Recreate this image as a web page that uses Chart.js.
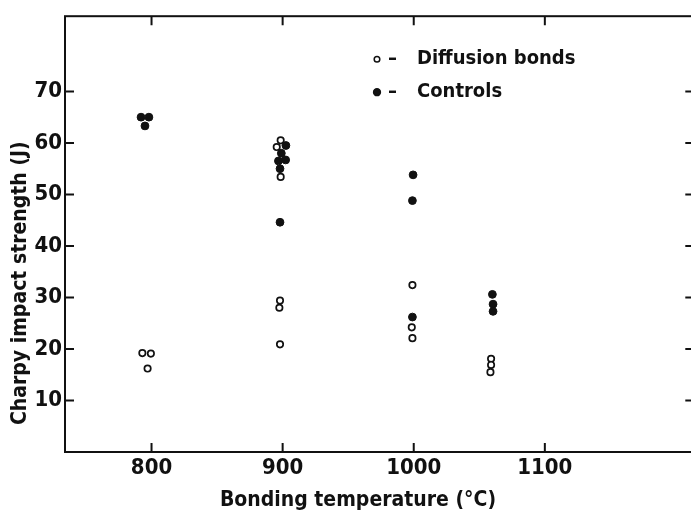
<!DOCTYPE html>
<html>
<head>
<meta charset="utf-8">
<script src="https://cdn.jsdelivr.net/npm/chart.js@4.4.1/dist/chart.umd.min.js"></script>
<style>
  html, body { margin: 0; padding: 0; background: #fff; overflow: hidden; }
  .chart-box { position: relative; width: 700px; height: 516px; }
</style>
</head>
<body>
<div class="chart-box"><canvas id="charpy-chart"></canvas></div>
<script>
  "use strict";

  // diffusion bonds (open circles)
  var diffusionTemp = [793, 799.5, 797, 898.5, 895.5, 898.5, 898, 897.5, 898, 999, 998.5, 999, 1059, 1059, 1058.5];
  var diffusionStrength = [19.2, 19.1, 16.2, 60.5, 59.2, 53.4, 29.4, 28.0, 20.9, 32.4, 24.2, 22.1, 18.1, 16.9, 15.5];

  // controls (filled dots)
  var controlTemp = [792, 798, 795, 902.5, 899, 902.3, 896.8, 898, 898, 999.5, 999, 999, 1060, 1060.5, 1060.5];
  var controlStrength = [65.0, 65.0, 63.3, 59.5, 58.0, 56.7, 56.5, 55.0, 44.6, 53.8, 48.8, 26.2, 30.6, 28.7, 27.3];

  var seriesLabels = ['Diffusion bonds', 'Controls'];
  var xTicks = [800, 900, 1000, 1100];
  var yTicks = [10, 20, 30, 40, 50, 60, 70];
  var xTitle = 'Bonding temperature (\u00B0C)';
  var yTitle = 'Charpy impact strength (J)';

  var FONT = '"DejaVu Sans Condensed", "DejaVu Sans", sans-serif';
  var INK = '#111111';

  function toPoints(xs, ys) {
    return xs.map(function (x, i) {
      return { x: x, y: ys[i] };
    });
  }

  // box, inward ticks, titles and legend
  var framePlugin = {
    id: 'frame',
    afterDraw: function (chart) {
      var ctx = chart.ctx;
      var a = chart.chartArea;
      var sx = chart.scales.x, sy = chart.scales.y;
      ctx.save();
      ctx.strokeStyle = INK;
      ctx.lineWidth = 2;
      ctx.strokeRect(a.left, a.top, a.right - a.left, a.bottom - a.top);
      ctx.beginPath();
      xTicks.forEach(function (v) {
        var px = sx.getPixelForValue(v);
        ctx.moveTo(px, a.bottom); ctx.lineTo(px, a.bottom - 9);
        ctx.moveTo(px, a.top); ctx.lineTo(px, a.top + 9);
      });
      yTicks.forEach(function (v) {
        var py = sy.getPixelForValue(v);
        ctx.moveTo(a.left, py); ctx.lineTo(a.left + 9, py);
        ctx.moveTo(a.right, py); ctx.lineTo(a.right - 9, py);
      });
      ctx.stroke();

      ctx.fillStyle = INK;
      ctx.font = 'bold 21px ' + FONT;
      ctx.textAlign = 'center';
      ctx.textBaseline = 'middle';
      ctx.fillText(xTitle, a.left + 293, a.bottom + 49);

      ctx.save();
      ctx.translate(21, a.top + 267);
      ctx.rotate(-Math.PI / 2);
      ctx.fillText(yTitle, 0, 0);
      ctx.restore();

      // legend
      var lx = a.left + 312, ly = a.top + 43;
      ctx.font = 'bold 20px ' + FONT;
      ctx.textAlign = 'left';
      chart.data.datasets.forEach(function (ds, i) {
        var y = ly + i * 33;
        ctx.beginPath();
        ctx.arc(lx, y, i === 0 ? 2.8 : 3.4, 0, Math.PI * 2);
        ctx.fillStyle = ds.backgroundColor;
        ctx.fill();
        ctx.lineWidth = 1.5;
        ctx.strokeStyle = ds.borderColor;
        ctx.stroke();
        ctx.fillStyle = INK;
        ctx.fillText('\u2013', lx + 11, y);
        ctx.fillText(ds.label, lx + 40, y);
      });
      ctx.restore();
    }
  };

  var ctxCharpy = document.getElementById('charpy-chart').getContext('2d');
  var charpyChart = new Chart(ctxCharpy, {
    type: 'scatter',
    data: {
      datasets: [
        {
          label: seriesLabels[0],
          data: toPoints(diffusionTemp, diffusionStrength),
          pointStyle: 'circle',
          pointRadius: 3.2,
          backgroundColor: '#ffffff',
          borderColor: INK,
          borderWidth: 1.7
        },
        {
          label: seriesLabels[1],
          data: toPoints(controlTemp, controlStrength),
          pointStyle: 'circle',
          pointRadius: 3.9,
          backgroundColor: INK,
          borderColor: INK,
          borderWidth: 1
        }
      ]
    },
    options: {
      responsive: true,
      maintainAspectRatio: false,
      animation: false,
      layout: {
        padding: { top: 9, right: 5, left: 0, bottom: 0 }
      },
      scales: {
        x: {
          type: 'linear',
          min: 734,
          max: 1214,
          grid: { display: false, drawTicks: false },
          border: { display: false },
          afterBuildTicks: function (scale) {
            scale.ticks = xTicks.map(function (v) { return { value: v }; });
          },
          afterFit: function (scale) {
            scale.height = 64;
          },
          ticks: {
            padding: 3,
            color: INK,
            maxRotation: 0,
            font: { family: FONT, size: 22, weight: 'bold' },
            callback: function (value) { return String(value); }
          }
        },
        y: {
          type: 'linear',
          min: 0,
          max: 84.6,
          grid: { display: false, drawTicks: false },
          border: { display: false },
          afterBuildTicks: function (scale) {
            scale.ticks = yTicks.map(function (v) { return { value: v }; });
          },
          afterFit: function (scale) {
            scale.width = 65;
          },
          ticks: {
            padding: 3,
            color: INK,
            font: { family: FONT, size: 22, weight: 'bold' },
            callback: function (value) { return String(value); }
          }
        }
      },
      plugins: {
        legend: { display: false },
        tooltip: { enabled: false }
      }
    },
    plugins: [framePlugin]
  });
</script>
</body>
</html>
